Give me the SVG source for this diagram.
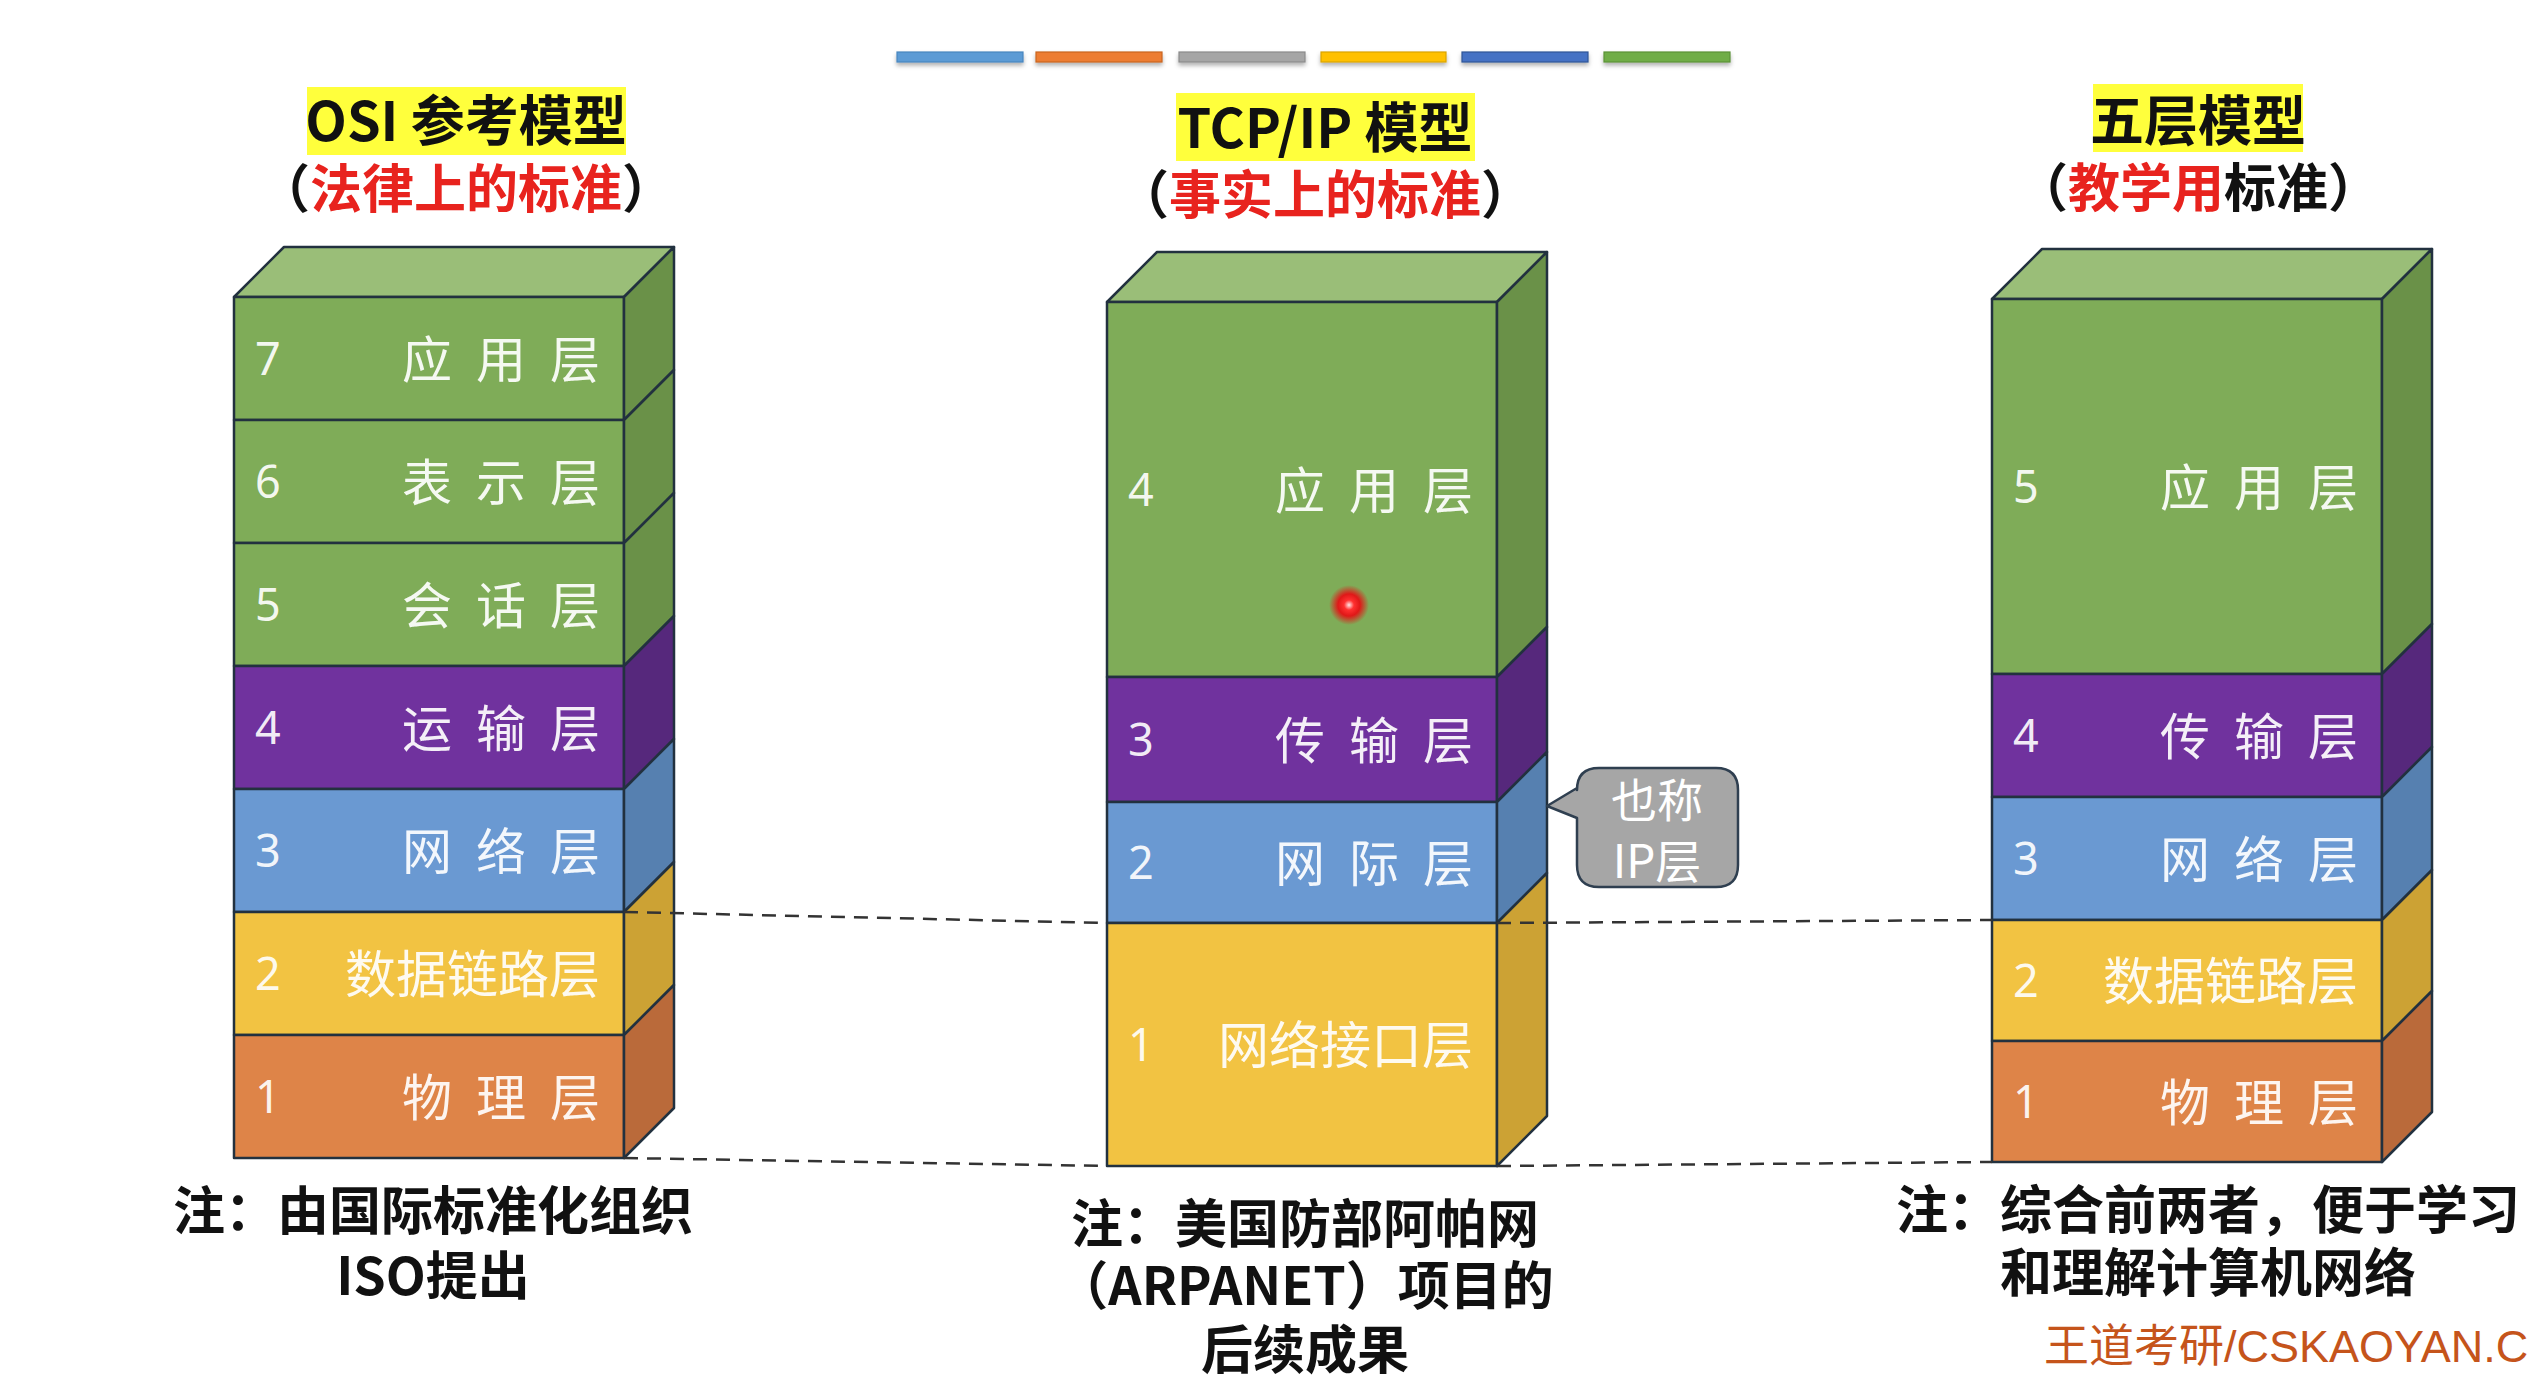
<svg xmlns="http://www.w3.org/2000/svg" width="2535" height="1389" viewBox="0 0 2535 1389">
<defs>
<style>
.edge{stroke:#22313f;stroke-width:2.5;stroke-linejoin:round}
.gf{fill:#7FAC58}.gs{fill:#6A9148}.gt{fill:#9ABE78}
.pf{fill:#70329E}.ps{fill:#56287C}
.bf{fill:#6A99D2}.bs{fill:#5680B0}
.yf{fill:#F2C342}.ys{fill:#CCA234}
.of{fill:#DE8448}.os{fill:#BA6A3A}
.lbl{font-family:"Noto Sans CJK SC","Noto Sans",sans-serif;font-size:50px;fill:#FFFFFF;fill-opacity:.92}
.lbl5{font-family:"Noto Sans CJK SC","Noto Sans",sans-serif;font-size:51px;fill:#FFFFFF;fill-opacity:.92;text-anchor:end}
.num{font-family:"Noto Sans","Noto Sans CJK SC",sans-serif;font-size:45px;fill:#FFFFFF;fill-opacity:.92}
.title{font-family:"Noto Sans CJK SC","Noto Sans",sans-serif;font-size:54px;font-weight:bold;fill:#111;text-anchor:middle}
.sub{font-family:"Noto Sans CJK SC","Noto Sans",sans-serif;font-size:52px;font-weight:bold;fill:#111;text-anchor:middle}
.red{fill:#E8231E}
.hl{fill:#FFFF3C}
.note{font-family:"Noto Sans CJK SC","Noto Sans",sans-serif;font-size:52px;font-weight:bold;fill:#111}
.dash{stroke:#333;stroke-width:2.5;stroke-dasharray:14 9;fill:none}
.bar{stroke-width:1.2}
</style>
<filter id="sh" x="-10%" y="-50%" width="120%" height="250%">
<feDropShadow dx="0" dy="3" stdDeviation="2" flood-color="#000" flood-opacity="0.3"/>
</filter>
<radialGradient id="dot">
<stop offset="0" stop-color="#FFE8E8"/>
<stop offset="0.25" stop-color="#FF3030"/>
<stop offset="0.55" stop-color="#E01818"/>
<stop offset="1" stop-color="#E01818" stop-opacity="0"/>
</radialGradient>
</defs>
<rect width="2535" height="1389" fill="#FFFFFF"/>

<g id="color-bar" filter="url(#sh)">
<rect class="bar" x="897" y="52" width="126" height="10" fill="#5B9BD5" stroke="#4A86BE"/>
<rect class="bar" x="1036" y="52" width="126" height="10" fill="#ED7D31" stroke="#C9651F"/>
<rect class="bar" x="1179" y="52" width="126" height="10" fill="#A5A5A5" stroke="#8A8A8A"/>
<rect class="bar" x="1321" y="52" width="125" height="10" fill="#FFC000" stroke="#D9A300"/>
<rect class="bar" x="1462" y="52" width="126" height="10" fill="#4472C4" stroke="#2F5597"/>
<rect class="bar" x="1604" y="52" width="126" height="10" fill="#70AD47" stroke="#5A9236"/>
</g>

<g id="osi-title">
<rect class="hl" x="307" y="87" width="319" height="68"/>
<text class="title" x="466" y="141">OSI 参考模型</text>
<text class="sub" x="466" y="208">（<tspan class="red">法律上的标准</tspan>）</text>
</g>
<g id="tcpip-title">
<rect class="hl" x="1176" y="93" width="299" height="68"/>
<text class="title" x="1325" y="148">TCP/IP 模型</text>
<text class="sub" x="1325" y="214">（<tspan class="red">事实上的标准</tspan>）</text>
</g>
<g id="five-title">
<rect class="hl" x="2093" y="84" width="210" height="68"/>
<text class="title" x="2198" y="141">五层模型</text>
<text class="sub" x="2198" y="207">（<tspan class="red">教学用</tspan>标准）</text>
</g>

<g id="osi-model">
<polygon class="edge gt" points="234,297 284,247 674,247 624,297"/>
<g id="osi-7"><rect class="edge gf" x="234" y="297" width="390" height="123"/><polygon class="edge gs" points="624,297 674,247 674,370 624,420"/><text class="num" x="255" y="375">7</text><text class="lbl" x="402 476 550" y="378">应用层</text></g>
<g id="osi-6"><rect class="edge gf" x="234" y="420" width="390" height="123"/><polygon class="edge gs" points="624,420 674,370 674,493 624,543"/><text class="num" x="255" y="498">6</text><text class="lbl" x="402 476 550" y="501">表示层</text></g>
<g id="osi-5"><rect class="edge gf" x="234" y="543" width="390" height="123"/><polygon class="edge gs" points="624,543 674,493 674,616 624,666"/><text class="num" x="255" y="621">5</text><text class="lbl" x="402 476 550" y="624">会话层</text></g>
<g id="osi-4"><rect class="edge pf" x="234" y="666" width="390" height="123"/><polygon class="edge ps" points="624,666 674,616 674,739 624,789"/><text class="num" x="255" y="744">4</text><text class="lbl" x="402 476 550" y="747">运输层</text></g>
<g id="osi-3"><rect class="edge bf" x="234" y="789" width="390" height="123"/><polygon class="edge bs" points="624,789 674,739 674,862 624,912"/><text class="num" x="255" y="867">3</text><text class="lbl" x="402 476 550" y="870">网络层</text></g>
<g id="osi-2"><rect class="edge yf" x="234" y="912" width="390" height="123"/><polygon class="edge ys" points="624,912 674,862 674,985 624,1035"/><text class="num" x="255" y="990">2</text><text class="lbl5" x="600" y="993">数据链路层</text></g>
<g id="osi-1"><rect class="edge of" x="234" y="1035" width="390" height="123"/><polygon class="edge os" points="624,1035 674,985 674,1108 624,1158"/><text class="num" x="255" y="1113">1</text><text class="lbl" x="402 476 550" y="1116">物理层</text></g>
</g>

<g id="tcpip-model">
<polygon class="edge gt" points="1107,302 1157,252 1547,252 1497,302"/>
<g id="tcp-4"><rect class="edge gf" x="1107" y="302" width="390" height="375"/><polygon class="edge gs" points="1497,302 1547,252 1547,627 1497,677"/><text class="num" x="1128" y="506">4</text><text class="lbl" x="1275 1349 1423" y="509">应用层</text></g>
<g id="tcp-3"><rect class="edge pf" x="1107" y="677" width="390" height="125"/><polygon class="edge ps" points="1497,677 1547,627 1547,752 1497,802"/><text class="num" x="1128" y="756">3</text><text class="lbl" x="1275 1349 1423" y="759">传输层</text></g>
<g id="tcp-2"><rect class="edge bf" x="1107" y="802" width="390" height="121"/><polygon class="edge bs" points="1497,802 1547,752 1547,873 1497,923"/><text class="num" x="1128" y="879">2</text><text class="lbl" x="1275 1349 1423" y="882">网际层</text></g>
<g id="tcp-1"><rect class="edge yf" x="1107" y="923" width="390" height="243"/><polygon class="edge ys" points="1497,923 1547,873 1547,1116 1497,1166"/><text class="num" x="1128" y="1061">1</text><text class="lbl5" x="1473" y="1064">网络接口层</text></g>
</g>

<g id="five-model">
<polygon class="edge gt" points="1992,299 2042,249 2432,249 2382,299"/>
<g id="five-5"><rect class="edge gf" x="1992" y="299" width="390" height="375"/><polygon class="edge gs" points="2382,299 2432,249 2432,624 2382,674"/><text class="num" x="2013" y="503">5</text><text class="lbl" x="2160 2234 2308" y="506">应用层</text></g>
<g id="five-4"><rect class="edge pf" x="1992" y="674" width="390" height="123"/><polygon class="edge ps" points="2382,674 2432,624 2432,747 2382,797"/><text class="num" x="2013" y="752">4</text><text class="lbl" x="2160 2234 2308" y="755">传输层</text></g>
<g id="five-3"><rect class="edge bf" x="1992" y="797" width="390" height="123"/><polygon class="edge bs" points="2382,797 2432,747 2432,870 2382,920"/><text class="num" x="2013" y="875">3</text><text class="lbl" x="2160 2234 2308" y="878">网络层</text></g>
<g id="five-2"><rect class="edge yf" x="1992" y="920" width="390" height="121"/><polygon class="edge ys" points="2382,920 2432,870 2432,991 2382,1041"/><text class="num" x="2013" y="997">2</text><text class="lbl5" x="2358" y="1000">数据链路层</text></g>
<g id="five-1"><rect class="edge of" x="1992" y="1041" width="390" height="121"/><polygon class="edge os" points="2382,1041 2432,991 2432,1112 2382,1162"/><text class="num" x="2013" y="1118">1</text><text class="lbl" x="2160 2234 2308" y="1121">物理层</text></g>
</g>

<g id="connectors">
<line class="dash" x1="624" y1="912" x2="1107" y2="923"/>
<line class="dash" x1="1497" y1="923" x2="1992" y2="920"/>
<line class="dash" x1="624" y1="1158" x2="1107" y2="1166"/>
<line class="dash" x1="1497" y1="1166" x2="1992" y2="1162"/>
</g>

<g id="ip-callout">
<path d="M1599 768 H1716 Q1738 768 1738 790 V865 Q1738 887 1716 887 H1599 Q1577 887 1577 865 V818 L1547 806 L1577 788 V790 Q1577 768 1599 768 Z" fill="#A6A6A6" stroke="#2F3F50" stroke-width="2.5" stroke-linejoin="round"/>
<text text-anchor="middle" font-family="Noto Sans CJK SC, Noto Sans, sans-serif" font-size="46" fill="#FFFFFF"><tspan x="1657" y="817">也称</tspan><tspan x="1657" y="878">IP层</tspan></text>
</g>

<g id="pointer-dot">
<circle cx="1349" cy="605" r="20" fill="url(#dot)"/>
</g>

<g id="osi-note">
<text class="note" text-anchor="middle"><tspan x="433" y="1230">注：由国际标准化组织</tspan><tspan x="433" y="1295">ISO提出</tspan></text>
</g>
<g id="tcpip-note">
<text class="note" text-anchor="middle"><tspan x="1305" y="1243">注：美国防部阿帕网</tspan><tspan x="1305" y="1305">（ARPANET）项目的</tspan><tspan x="1305" y="1369">后续成果</tspan></text>
</g>
<g id="five-note">
<text class="note"><tspan x="1896" y="1229">注：综合前两者，便于学习</tspan><tspan x="2000" y="1292">和理解计算机网络</tspan></text>
</g>

<text id="watermark" x="2044" y="1362" font-family="Liberation Sans, Noto Sans CJK SC, sans-serif" font-size="45" fill="#C5541B">王道考研/CSKAOYAN.C</text>
</svg>
